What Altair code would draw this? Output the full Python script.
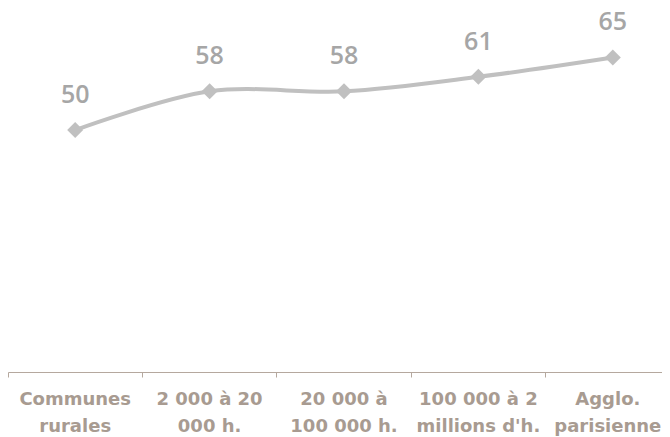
import altair as alt
import pandas as pd

categories = ["Communes|rurales", "2 000 à 20|000 h.", "20 000 à|100 000 h.",
              "100 000 à 2|millions d'h.", "Agglo.|parisienne"]
values = [50, 58, 58, 61, 65]

df = pd.DataFrame({"cat": categories, "val": values})

x_axis = alt.Axis(labelExpr="split(datum.label, '|')", labelAngle=0,
                  labelFont="DejaVu Sans", labelFontWeight="bold",
                  labelFontSize=18, labelColor="#A89B91", labelLineHeight=27,
                  labelPadding=22, labelLimit=200, labelBaseline="middle",
                  labelOffset={"condition": {"test": "datum.value == 'Agglo.|parisienne'", "value": -5},
                               "value": 0},
                  domainColor="#B5A89E", tickColor="#B5A89E", tickSize=5,
                  bandPosition=0, grid=False)
x = alt.X("cat:N", sort=categories, title=None,
          scale=alt.Scale(type="band", paddingInner=0, paddingOuter=0, range=[0, 672]),
          bandPosition=0.5, axis=x_axis)
y = alt.Y("val:Q", scale=alt.Scale(domain=[0, 74.4]), axis=None)

base = alt.Chart(df).encode(x=x, y=y)

line = base.mark_line(color="#C0C0C0", strokeWidth=4, interpolate="catmull-rom")
pts = base.mark_point(shape="diamond", filled=True, color="#C0C0C0", size=256, opacity=1)
labels = base.mark_text(dy=-35, baseline="middle", align="center", font="Open Sans",
                        fontWeight=600, fontSize=25, color="#A6A6A6").encode(text="val:Q")

chart = (line + pts + labels).properties(
    width=654, height=360,
    padding={"left": 0, "top": 4, "right": 0, "bottom": 70},
    autosize=alt.AutoSizeParams(type="none")
).configure_view(stroke=None)

chart.save("out.html", embed_options={"renderer": "svg", "actions": False})
